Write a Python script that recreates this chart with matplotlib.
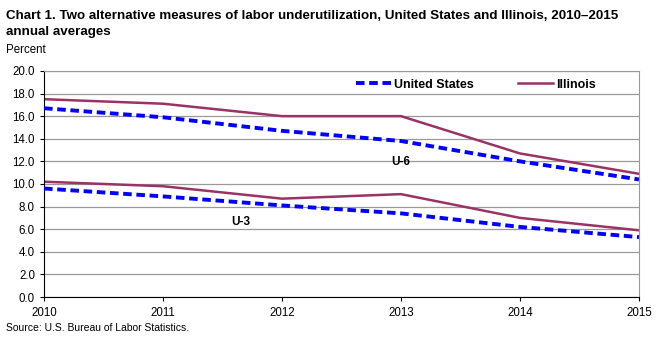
import numpy as np
import matplotlib
matplotlib.use('Agg')
import matplotlib.pyplot as plt

plt.rcParams['font.family'] = ['Liberation Sans', 'DejaVu Sans']

years = [2010, 2011, 2012, 2013, 2014, 2015]
us_u6 = [16.7, 15.9, 14.7, 13.8, 12.0, 10.4]
il_u6 = [17.5, 17.1, 16.0, 16.0, 12.7, 10.9]
us_u3 = [9.6, 8.9, 8.1, 7.4, 6.2, 5.3]
il_u3 = [10.2, 9.8, 8.7, 9.1, 7.0, 5.9]
yticks = np.arange(0, 20.1, 2.0)

blue = '#0000FF'
maroon = '#993366'

fig = plt.figure(figsize=(6.64, 3.41), dpi=100)
ax = fig.add_axes([0.0663, 0.129, 0.896, 0.663])

ax.plot(years, us_u6, color=blue, lw=2.8, dashes=(2.2, 1.2), label='United States', zorder=3)
ax.plot(years, il_u6, color=maroon, lw=1.8, label='Illinois', zorder=2)
ax.plot(years, us_u3, color=blue, lw=2.8, dashes=(2.2, 1.2), zorder=3)
ax.plot(years, il_u3, color=maroon, lw=1.8, zorder=2)

ax.set_xlim(2010, 2015)
ax.set_ylim(0, 20)
ax.set_yticks(yticks)
ax.set_yticklabels(['%.1f' % v for v in yticks])
ax.set_xticks(years)
ax.grid(axis='y', color='#999999', lw=0.9)
ax.set_axisbelow(True)
for s in ['top', 'right']:
    ax.spines[s].set_color('#999999')
ax.spines['left'].set_color('black')
ax.spines['bottom'].set_color('black')
ax.tick_params(labelsize=8.3, length=3, color='black')
ax.tick_params(axis='x', pad=4)

ax.text(2013, 11.9, 'U-6', fontsize=8.5, fontweight='bold', ha='center', va='center')
ax.text(2011.65, 6.6, 'U-3', fontsize=8.5, fontweight='bold', ha='center', va='center')

leg = ax.legend(loc='upper center', bbox_to_anchor=(0.726, 1.015), ncol=2, frameon=False,
                prop={'weight': 'bold', 'size': 9}, handlelength=2.8,
                columnspacing=3.5, handletextpad=0.3)

fig.text(0.009, 0.97, 'Chart 1. Two alternative measures of labor underutilization, United States and Illinois, 2010\u20132015\nannual averages',
         fontsize=9.6, fontweight='bold', va='top', ha='left', linespacing=1.45)
fig.text(0.009, 0.852, 'Percent', fontsize=8.3, va='center', ha='left')
fig.text(0.009, 0.038, 'Source: U.S. Bureau of Labor Statistics.', fontsize=7.5, va='center', ha='left')

fig.savefig('out.png', dpi=100)
